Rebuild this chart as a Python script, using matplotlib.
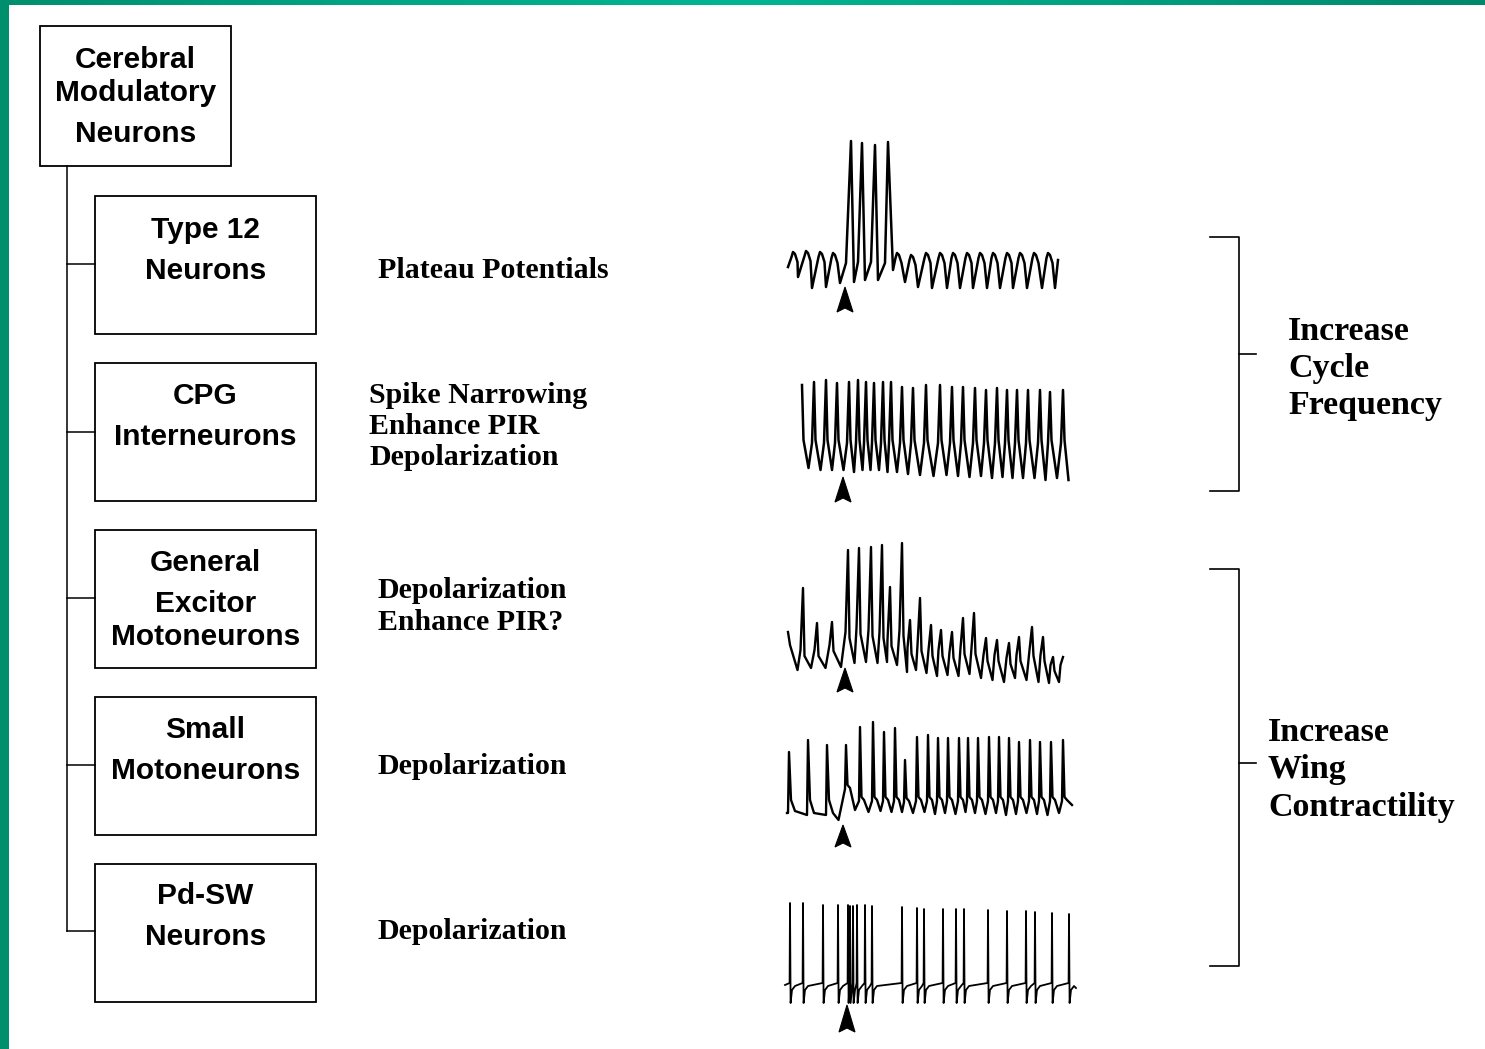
import numpy as np
import matplotlib.pyplot as plt
from matplotlib.patches import Rectangle, Polygon
from matplotlib.colors import LinearSegmentedColormap

W, H = 1485, 1049

# ---- left column: neuron classes ----
top_box = ["Cerebral", "Modulatory", "Neurons"]
neuron_boxes = [
    ["Type 12", "Neurons"],
    ["CPG", "Interneurons"],
    ["General", "Excitor", "Motoneurons"],
    ["Small", "Motoneurons"],
    ["Pd-SW", "Neurons"],
]
effects = [
    ["Plateau Potentials"],
    ["Spike Narrowing", "Enhance PIR", "Depolarization"],
    ["Depolarization", "Enhance PIR?"],
    ["Depolarization"],
    ["Depolarization"],
]
outcomes = [["Increase", "Cycle", "Frequency"],
            ["Increase", "Wing", "Contractility"]]

# ---- traces (t: time units from trace start, v: potential, up positive) ----
# trace 1: plateau potentials
t1 = [8, 13, 18, 26, 32, 40, 46, 53, 60, 66, 71, 74, 78, 82, 85, 91, 95, 98, 105, 108,
      113, 117, 125, 131, 138, 146, 152, 160, 167, 173, 180, 187, 193, 200, 207, 213,
      220, 227, 233, 240, 247, 254, 262, 268, 275, 278]
v1 = [33, 48, 23, 49, 12, 48, 13, 47, 17, 37, 159, 18, 38, 157, 20, 38, 155, 20, 37, 158,
      30, 47, 18, 45, 13, 47, 12, 47, 12, 47, 12, 47, 12, 47, 12, 47,
      12, 47, 12, 47, 12, 47, 12, 47, 12, 40]

# trace 2: CPG interneuron
t2_peak = [22, 34, 46, 57, 69, 78, 86, 94, 103, 111, 122, 133, 146, 160, 172, 183,
           195, 206, 217, 227, 237, 248, 260, 270, 283]
v2_peak = [100, 103, 105, 102, 103, 105, 103, 102, 103, 103, 98, 97, 100, 100, 98, 98,
           97, 95, 97, 95, 95, 95, 95, 93, 95]
v2_trough = [17, 15, 15, 15, 13, 15, 15, 15, 13, 13, 11, 10, 9, 10, 9, 8, 9, 7, 8, 7,
             7, 7, 5, 7, 5]
v2_shoulder = 42

# trace 3: general excitor motoneuron
t3_peak = [23, 37, 52, 68, 79, 91, 102, 110, 122, 130, 140, 151, 161, 172, 183, 194,
           206, 217, 229, 239, 252, 263, 273, 283]
v3_peak = [102, 67, 68, 140, 142, 143, 145, 103, 147, 70, 92, 65, 60, 58, 72, 77,
           52, 50, 47, 53, 63, 53, 33, 33]
v3_trough = [20, 22, 22, 23, 27, 28, 27, 28, 25, 18, 20, 17, 14, 15, 14, 16,
             12, 10, 8, 12, 10, 8, 7, 8]
v3_shoulder = [40, 40, 45, 58, 62, 60, 58, 50, 60, 42, 45, 40, 40, 38, 42, 42,
               35, 35, 32, 35, 40, 35, 25, 25]

# trace 4: small motoneuron
t4_peak = [9, 28, 47, 66, 80, 93, 104, 115, 125, 137, 148, 158, 168, 179, 188, 198,
           209, 219, 229, 239, 250, 260, 271, 283]
v4_peak = [78, 90, 85, 85, 103, 108, 98, 102, 70, 93, 95, 92, 92, 92, 92, 92,
           93, 93, 92, 88, 90, 88, 88, 90]
v4_trough = [17, 15, 15, 10, 20, 18, 19, 18, 18, 17, 18, 16, 17, 16, 18, 17,
             16, 17, 15, 16, 17, 16, 15, 17]
v4_after = [30, 30, 30, 45, 33, 33, 33, 33, 32, 33, 33, 33, 33, 33, 33, 33,
            33, 33, 33, 33, 33, 33, 33, 33]
v4_end = 25

# trace 5: Pd-SW neuron
t5_peak = [10, 23, 43, 58, 68, 70, 73, 77, 85, 92, 122, 137, 144, 163, 176, 184,
           208, 227, 246, 255, 272, 289]
v5_peak = [107, 107, 105, 105, 105, 104, 104, 105, 105, 104, 103, 102, 101, 101, 101, 101,
           100, 99, 99, 98, 97, 96]
v5_rest, v5_under = 25, 7

# stimulus (arrow) time per trace
t_stim = [65, 63, 65, 63, 67]


def trace1_path():
    # round off the slow-wave tops (local maxima well below the spikes)
    t, v = [], []
    n = len(t1)
    for i in range(n):
        is_top = 0 < i < n - 1 and v1[i] > v1[i - 1] and v1[i] > v1[i + 1] and v1[i] < 60
        if is_top:
            t += [t1[i] - 1.5, t1[i], t1[i] + 2, t1[i] + 4.5]
            v += [v1[i] - 5, v1[i], v1[i] - 2, v1[i] - 10]
        else:
            t.append(t1[i])
            v.append(v1[i])
    return t, v


def trace2_path():
    t, v = [], []
    for i, (tp, vp) in enumerate(zip(t2_peak, v2_peak)):
        t += [tp, tp + 1.5]
        v += [vp, v2_shoulder + 3]
        nxt = t2_peak[i + 1] if i + 1 < len(t2_peak) else tp + 10
        t += [(tp + nxt) / 2 + 0.5]
        v += [v2_trough[i]]
        if i + 1 < len(t2_peak):
            t += [nxt - 2]
            v += [v2_shoulder]
    return t, v


def trace3_path():
    t, v = [8, 10], [58, 45]
    prev = 10
    for i, (tp, vp) in enumerate(zip(t3_peak, v3_peak)):
        t += [(prev + tp) / 2 + 1, tp - 2.5, tp]
        v += [v3_trough[i], v3_shoulder[i], vp]
        t += [tp + 1.5]
        v += [v3_shoulder[i] - 6]
        prev = tp
    return t[:-1], v[:-1]


def trace4_path():
    t, v = [7], [17]
    prev = 7
    for i, (tp, vp) in enumerate(zip(t4_peak, v4_peak)):
        if tp <= t_stim[3]:
            t += [tp - 1, tp, tp + 2, tp + 6]
            v += [v4_trough[i], vp, v4_after[i], v4_trough[i] + 2]
        else:
            t += [(prev + tp) / 2 + 2, tp - 1, tp, tp + 1.5, tp + 4]
            v += [v4_trough[i], v4_after[i] - 4, vp, v4_after[i], v4_after[i] - 3]
        prev = tp
    t += [292]
    v += [v4_end]
    return t, v


def trace5_path():
    t, v = [5], [v5_rest]
    for i, (tp, vp) in enumerate(zip(t5_peak, v5_peak)):
        t += [tp - 0.4, tp, tp + 0.6]
        v += [v5_rest + 2, vp, v5_under]
        nxt = t5_peak[i + 1] if i + 1 < len(t5_peak) else tp + 8
        if nxt - tp > 3:
            t += [tp + 2, min(tp + 5, nxt - 1)]
            v += [v5_rest - 5, v5_rest - 1]
    t += [296]
    v += [v5_rest - 3]
    return t, v


fig = plt.figure(figsize=(W / 100, H / 100), dpi=100)
fig.patch.set_facecolor("white")
ax = fig.add_axes([0, 0, 1, 1])
ax.set_xlim(0, W)
ax.set_ylim(H, 0)
ax.axis("off")

# green frame
grad = LinearSegmentedColormap.from_list("g", ["#008f6d", "#00a585", "#00b592", "#00a080", "#00886a"])
ax.imshow(np.linspace(0, 1, 256)[None, :], cmap=grad, aspect="auto",
          extent=[0, W, 5, 0], zorder=5)
ax.add_patch(Rectangle((0, 0), 9, H, color="#008f6d", lw=0, zorder=6))

lw_box = 1.3
sans = dict(family="Liberation Sans", weight="bold", size=21.5, ha="center", va="baseline")
serif = dict(family="Liberation Serif", weight="bold", size=21.5, ha="left", va="baseline")
serif_big = dict(family="Liberation Serif", weight="bold", size=24.5, ha="left", va="baseline")

# top box
ax.add_patch(Rectangle((40, 26), 191, 140, fill=False, ec="black", lw=lw_box))
for s, yb in zip(top_box, [68, 101, 142]):
    ax.text(135.5, yb, s, **sans)

# tree
box_tops = [196, 363, 530, 697, 864]
box_mid = [264, 432, 598, 765, 931]
first_base = [238, 404, 571, 738, 904]
ax.plot([67, 67], [166, box_mid[-1]], color="black", lw=1.1)
for k, (lines, yt, ym) in enumerate(zip(neuron_boxes, box_tops, box_mid)):
    ax.add_patch(Rectangle((95, yt), 221, 138, fill=False, ec="black", lw=lw_box))
    ax.plot([67, 95], [ym, ym], color="black", lw=1.1)
    if len(lines) == 2:
        bases = [first_base[k], first_base[k] + 41]
    else:
        bases = [571, 612, 645]
    for s, yb in zip(lines, bases):
        ax.text(205.5, yb, s, **sans)

# effect labels
eff_pos = [(378, [278]), (369, [403, 434, 465]), (378, [598, 630]), (377, [774]), (378, [939])]
for lines, (x0, bases) in zip(effects, eff_pos):
    for s, yb in zip(lines, bases):
        ax.text(x0, yb, s, **serif)

# traces
paths = [trace1_path(), trace2_path(), trace3_path(), trace4_path(), trace5_path()]
trace_box = [(300, 170), (485, 115), (690, 155), (830, 115), (1010, 115)]
trace_lw = [1.8, 1.8, 1.7, 1.7, 1.3]
for (tt, vv), (yb, h), lw in zip(paths, trace_box, trace_lw):
    tax = fig.add_axes([780 / W, 1 - yb / H, 300 / W, h / H])
    tax.set_xlim(0, 300)
    tax.set_ylim(0, h)
    tax.axis("off")
    tax.plot(tt, vv, color="black", lw=lw, solid_joinstyle="round")

# stimulus arrows
arrow_y = [(287, 312), (477, 502), (668, 692), (825, 847), (1005, 1032)]
for ts, (ytip, ybase) in zip(t_stim, arrow_y):
    xc = 780 + ts
    ax.add_patch(Polygon([(xc, ytip), (xc + 8, ybase), (xc, ybase - 4), (xc - 8, ybase)],
                         closed=True, fc="black", ec="black", lw=0.8))

# brackets
for ytop, ybot, ymid in [(237, 491, 354), (569, 966, 763)]:
    ax.plot([1210, 1239, 1239, 1210], [ytop, ytop, ybot, ybot], color="black", lw=1.2)
    ax.plot([1239, 1256], [ymid, ymid], color="black", lw=1.2)

for lines, x0, bases in zip(outcomes, [1288, 1268], [[340, 377, 414], [741, 778, 816]]):
    for s, yb in zip(lines, bases):
        ax.text(x0, yb, s, **serif_big)

fig.savefig("out.png", dpi=100, facecolor="white")
